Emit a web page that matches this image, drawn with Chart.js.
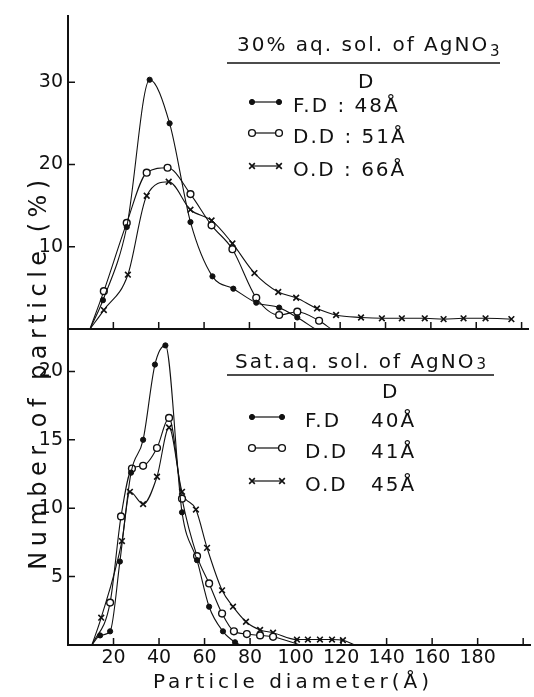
<!DOCTYPE html>
<html>
<head>
<meta charset="utf-8">
<title>Particle size distribution</title>
<script src="https://cdn.jsdelivr.net/npm/chart.js@4.4.1/dist/chart.umd.min.js"></script>
<style>
  html, body { margin: 0; padding: 0; background: #fff; }
  #wrap { position: relative; width: 534px; height: 697px; }
  #wrap canvas { position: absolute; left: 0; top: 0; }
</style>
</head>
<body>
<div id="wrap">
  <canvas id="bottomChart" width="534" height="697"></canvas>
  <canvas id="topChart" width="534" height="697"></canvas>
</div>
<script>
// tick positions / labels
const xTickValues = [20, 40, 60, 80, 100, 120, 140, 160, 180, 200];
const xTickLabels = [20, 40, 60, 80, 100, 120, 140, 160, 180];
const topYTicks = [10, 20, 30];
const bottomYTicks = [5, 10, 15, 20];

const seriesNames = ['F.D', 'D.D', 'O.D'];
const topMeanD = ['48Å', '51Å', '66Å'];
const bottomMeanD = ['40Å', '41Å', '45Å'];

// 30% aq. sol. of AgNO3 : [diameter (Å), number of particle (%)]
const topFD = [[9.7, 0], [15.4, 3.5], [25.9, 12.4], [36, 30.3], [44.8, 25.0], [54.0, 13.0],
  [63.7, 6.4], [72.9, 4.9], [83.0, 3.2], [93.1, 2.6], [101.1, 1.4], [109, 0]];
const topDD = [[9.7, 0], [15.8, 4.6], [25.9, 12.9], [34.7, 19.0], [43.9, 19.6], [54.0, 16.4],
  [63.3, 12.6], [72.5, 9.7], [83.0, 3.8], [93.1, 1.7], [101.1, 2.1], [110.7, 1.0], [116, 0]];
const topOD = [[9.7, 0], [15.8, 2.3], [26.4, 6.6], [34.7, 16.2], [44.4, 17.9], [54.0, 14.5],
  [63.3, 13.2], [72.5, 10.4], [82.2, 6.8], [92.7, 4.5], [100.6, 3.8], [109.8, 2.5], [118.2, 1.7],
  [129.2, 1.4], [138.4, 1.3], [147.2, 1.3], [157.3, 1.3], [165.6, 1.2], [174.4, 1.3], [184.1, 1.3], [195.5, 1.2]];

// Sat. aq. sol. of AgNO3
const bottomFD = [[10.5, 0], [14.1, 0.7], [18.5, 1.0], [22.8, 6.1], [27.7, 12.6], [33.0, 15.0],
  [38.2, 20.5], [42.8, 21.9], [50.1, 9.7], [56.7, 6.2], [62.0, 2.8], [68.1, 1.0], [73.4, 0.2], [76, 0]];
const bottomDD = [[10.5, 0], [18.5, 3.1], [23.3, 9.4], [28.1, 12.9], [33.0, 13.1], [39.1, 14.4],
  [44.4, 16.6], [50.1, 10.7], [56.7, 6.5], [62.0, 4.5], [67.7, 2.3], [72.9, 1.0], [78.6, 0.8],
  [84.4, 0.7], [90.1, 0.6], [102, 0]];
const bottomOD = [[10.5, 0], [14.6, 2.0], [23.7, 7.6], [27.2, 11.2], [33.0, 10.3], [39.1, 12.3],
  [44.4, 15.9], [50.1, 11.2], [56.2, 9.9], [61.1, 7.1], [67.7, 4.0], [72.5, 2.8], [78.2, 1.7],
  [84.4, 1.1], [90.1, 0.9], [100.6, 0.4], [105.4, 0.4], [110.7, 0.4], [116, 0.4], [120.8, 0.35], [126, 0]];

const INK = '#111';
const FONT = '"DejaVu Sans", sans-serif';

const markerStyles = [
  { pointStyle: 'circle', radius: 2.6, fill: INK, border: 1 },
  { pointStyle: 'circle', radius: 3.4, fill: '#fff', border: 1.4 },
  { pointStyle: 'crossRot', radius: 4, fill: INK, border: 1.6 }
];

Chart.defaults.color = INK;
Chart.defaults.font.family = FONT;

function drawMarker(ctx, st, x, y) {
  ctx.fillStyle = st.fill;
  ctx.strokeStyle = INK;
  ctx.lineWidth = st.border;
  Chart.helpers.drawPoint(ctx, { pointStyle: st.pointStyle, radius: st.radius, borderWidth: st.border, rotation: 0 }, x, y);
}

// ticks of the original point into the plot
const inwardTicks = {
  id: 'inwardTicks',
  afterDatasetsDraw(chart) {
    const { ctx, chartArea: a, scales: { x, y } } = chart;
    ctx.save();
    ctx.strokeStyle = INK;
    ctx.lineWidth = 1.5;
    ctx.beginPath();
    x.ticks.forEach(t => {
      const px = x.getPixelForValue(t.value);
      ctx.moveTo(px, a.bottom);
      ctx.lineTo(px, a.bottom - 7);
    });
    y.ticks.forEach(t => {
      const py = y.getPixelForValue(t.value);
      ctx.moveTo(a.left, py);
      ctx.lineTo(a.left + 7, py);
    });
    ctx.stroke();
    ctx.restore();
  }
};

const notes = {
  topChart: {
    title: '30% aq. sol. of AgNO', titleX: 237, titleY: 51, subDrop: 5,
    rule: [227, 500], ruleY: 63,
    headX: 358, headY: 88,
    sample: [252, 279], rowY: [102, 133, 166],
    rowText: seriesNames.map((n, i) => n + ' : ' + topMeanD[i]), textX: 293
  },
  bottomChart: {
    title: 'Sat.aq. sol. of AgNO', titleX: 235, titleY: 368, subDrop: 1,
    rule: [227, 494], ruleY: 375,
    headX: 382, headY: 398,
    sample: [252, 282], rowY: [417, 448, 481],
    rowText: seriesNames, textX: 305,
    sizes: bottomMeanD, sizeX: 371,
    axisTitles: true
  }
};

const panelNotes = {
  id: 'panelNotes',
  afterDraw(chart) {
    const o = notes[chart.canvas.id];
    const ctx = chart.ctx;
    ctx.save();
    ctx.fillStyle = INK;
    ctx.strokeStyle = INK;
    ctx.textAlign = 'left';
    ctx.textBaseline = 'alphabetic';
    ctx.letterSpacing = '2px';
    ctx.font = '20px ' + FONT;
    ctx.fillText(o.title, o.titleX, o.titleY);
    const w = ctx.measureText(o.title).width;
    ctx.font = '15px ' + FONT;
    ctx.fillText('3', o.titleX + w + 1, o.titleY + o.subDrop);
    ctx.lineWidth = 1.6;
    ctx.beginPath();
    ctx.moveTo(o.rule[0], o.ruleY);
    ctx.lineTo(o.rule[1], o.ruleY);
    ctx.stroke();
    ctx.font = '20px ' + FONT;
    ctx.fillText('D', o.headX, o.headY);

    chart.data.datasets.forEach((ds, i) => {
      const y = o.rowY[i];
      ctx.strokeStyle = INK;
      ctx.lineWidth = 1.2;
      ctx.beginPath();
      ctx.moveTo(o.sample[0], y);
      ctx.lineTo(o.sample[1], y);
      ctx.stroke();
      drawMarker(ctx, markerStyles[i], o.sample[0], y);
      drawMarker(ctx, markerStyles[i], o.sample[1], y);
      ctx.fillStyle = INK;
      ctx.font = '20px ' + FONT;
      ctx.fillText(o.rowText[i], o.textX, y + 10);
      if (o.sizes) ctx.fillText(o.sizes[i], o.sizeX, y + 10);
    });

    if (o.axisTitles) {
      ctx.letterSpacing = '4px';
      ctx.font = '20px ' + FONT;
      ctx.textAlign = 'center';
      ctx.fillText('Particle diameter(Å)', 293, 688);
      ctx.letterSpacing = '5.5px';
      ctx.translate(40, 372);
      ctx.rotate(-Math.PI / 2);
      ctx.font = '24px ' + FONT;
      ctx.textBaseline = 'middle';
      ctx.fillText('Number of particle (%)', 0, 0);
    }
    ctx.restore();
  }
};

function makeDatasets(series) {
  return series.map((pts, i) => {
    const st = markerStyles[i];
    return {
      label: seriesNames[i],
      data: pts.map(([x, y]) => ({ x, y })),
      borderColor: INK,
      borderWidth: 1.1,
      cubicInterpolationMode: 'monotone',
      pointStyle: st.pointStyle,
      pointRadius: c => (c.raw && c.raw.y === 0 ? 0 : st.radius),
      pointBackgroundColor: st.fill,
      pointBorderColor: INK,
      pointBorderWidth: st.border,
      fill: false
    };
  });
}

function panelOptions(p) {
  return {
    responsive: false,
    animation: false,
    events: [],
    layout: { padding: { top: p.top, bottom: p.bottom, left: 0, right: 4 } },
    plugins: { legend: { display: false }, tooltip: { enabled: false } },
    scales: {
      x: {
        type: 'linear', min: 0, max: 203,
        afterBuildTicks: s => { s.ticks = xTickValues.map(v => ({ value: v })); },
        afterFit: s => { s.height = p.xHeight; },
        grid: { display: false, drawTicks: false },
        border: { color: INK, width: 2 },
        ticks: {
          display: p.xLabels, autoSkip: false, maxRotation: 0, padding: 2,
          font: { size: 19 }, color: INK,
          callback: v => (xTickLabels.includes(v) ? String(v) : '')
        }
      },
      y: {
        min: 0, max: p.yMax,
        afterBuildTicks: s => { s.ticks = p.yTicks.map(v => ({ value: v })); },
        afterFit: s => { s.width = 68; },
        grid: { display: false, drawTicks: false },
        border: { color: INK, width: 2 },
        ticks: { padding: 5, font: { size: 19 }, color: INK }
      }
    }
  };
}

new Chart(document.getElementById('topChart'), {
  type: 'line',
  data: { datasets: makeDatasets([topFD, topDD, topOD]) },
  options: panelOptions({ top: 8, bottom: 697 - 329 - 11, xHeight: 11, xLabels: false, yMax: 38, yTicks: topYTicks }),
  plugins: [inwardTicks, panelNotes]
});

new Chart(document.getElementById('bottomChart'), {
  type: 'line',
  data: { datasets: makeDatasets([bottomFD, bottomDD, bottomOD]) },
  options: panelOptions({ top: 329, bottom: 0, xHeight: 52, xLabels: true, yMax: 23.1, yTicks: bottomYTicks }),
  plugins: [inwardTicks, panelNotes]
});
</script>
</body>
</html>
